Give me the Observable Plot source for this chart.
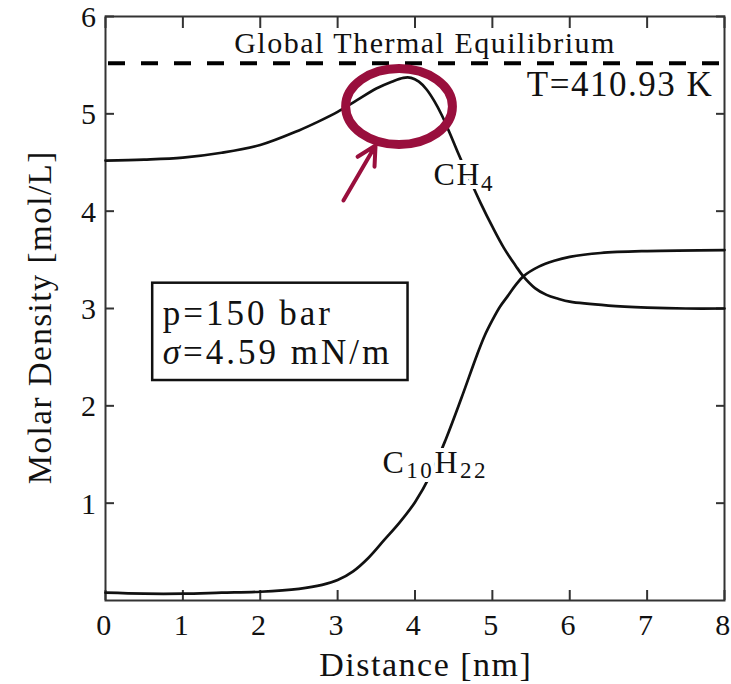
<!DOCTYPE html>
<html><head><meta charset="utf-8">
<script src="https://cdn.jsdelivr.net/npm/d3@7"></script>
<script src="https://cdn.jsdelivr.net/npm/@observablehq/plot@0.6"></script>
<style>body{margin:0;background:#fff} svg text{font-family:"Liberation Serif","Times New Roman","DejaVu Serif",serif !important;}</style>
</head><body><div id="chart"></div>
<script>
// ---- data ----
const distanceCH4 = [0, 0.5, 1.0, 1.5, 2.0, 2.5, 2.75, 3.0, 3.25, 3.5, 3.7, 3.85, 3.95, 4.05, 4.15, 4.25, 4.35, 4.45, 4.55, 4.7, 4.85, 5.0, 5.15, 5.3, 5.4, 5.55, 5.7, 5.85, 6.0, 6.5, 7.0, 7.5, 8.0];
const densityCH4  = [4.52, 4.53, 4.55, 4.60, 4.68, 4.83, 4.92, 5.02, 5.14, 5.26, 5.33, 5.37, 5.37, 5.33, 5.25, 5.13, 4.98, 4.80, 4.61, 4.34, 4.08, 3.84, 3.62, 3.44, 3.33, 3.21, 3.14, 3.10, 3.07, 3.03, 3.01, 3.00, 3.00];
const distanceC10H22 = [0, 0.5, 1.0, 1.5, 2.0, 2.5, 2.8, 3.0, 3.2, 3.4, 3.6, 3.8, 4.0, 4.2, 4.4, 4.6, 4.8, 4.9, 5.0, 5.1, 5.2, 5.3, 5.4, 5.6, 5.8, 6.0, 6.4, 7.0, 8.0];
const densityC10H22  = [0.08, 0.07, 0.07, 0.08, 0.09, 0.12, 0.16, 0.21, 0.30, 0.44, 0.62, 0.80, 1.01, 1.29, 1.66, 2.08, 2.52, 2.72, 2.88, 3.02, 3.13, 3.24, 3.33, 3.43, 3.49, 3.53, 3.57, 3.59, 3.60];
const xTicks = [0, 1, 2, 3, 4, 5, 6, 7, 8];
const yTicks = [1, 2, 3, 4, 5, 6];
const equilibriumDensity = 5.52;
const equilibriumLabel = "Global Thermal Equilibrium";
const temperatureLabel = "T=410.93 K";
const boxLines = ["p=150 bar", "σ=4.59 mN/m"];
const speciesLabels = ["CH4", "C10H22"];
const xLabel = "Distance [nm]";
const yLabel = "Molar Density [mol/L]";

const ch4 = distanceCH4.map((d, i) => ({distance: d, density: densityCH4[i]}));
const c10 = distanceC10H22.map((d, i) => ({distance: d, density: densityC10H22[i]}));

const ink = "#111";
const axisInk = "#333";
const red = "#990f3d";
const serif = '"Liberation Serif", "Times New Roman", "DejaVu Serif", serif';

// highlight ellipse (annotation), in data units
const ell = {cx: 3.80, cy: 5.07, rx: 0.69, ry: 0.39};

const ellipseMark = (index, scales) => {
  const cx = scales.x(ell.cx), cy = scales.y(ell.cy);
  const rx = Math.abs(scales.x(ell.cx + ell.rx) - cx);
  const ry = Math.abs(scales.y(ell.cy + ell.ry) - cy);
  return d3.create("svg:ellipse")
    .attr("cx", cx).attr("cy", cy).attr("rx", rx).attr("ry", ry)
    .attr("fill", "none").attr("stroke", red).attr("stroke-width", 9)
    .node();
};

const chart = Plot.plot({
  width: 731, height: 684,
  marginTop: 16, marginRight: 7, marginBottom: 84, marginLeft: 105,
  x: {domain: [0, 8]},
  y: {domain: [0, 6]},
  style: {fontFamily: serif, background: "white", color: ink, letterSpacing: "1.5px"},
  marks: [
    Plot.axisX(xTicks, {anchor: "bottom", tickSize: 0, tickPadding: 13, dx: -1, fontSize: 30, label: null, fill: ink, tickFormat: "d", fontFamily: serif, ariaLabel: "x-tick-labels"}),
    Plot.axisX(xTicks, {anchor: "bottom", tickSize: -10, fill: "none", stroke: axisInk, strokeWidth: 2, label: null}),
    Plot.axisX(xTicks, {anchor: "top", tickSize: -11, fill: "none", stroke: axisInk, strokeWidth: 2, label: null}),
    Plot.axisY(yTicks, {anchor: "left", tickSize: 0, tickPadding: 8, dy: 1, fontSize: 30, label: null, fill: ink, tickFormat: "d", fontFamily: serif, ariaLabel: "y-tick-labels"}),
    Plot.axisY(yTicks, {anchor: "left", tickSize: -9, fill: "none", stroke: axisInk, strokeWidth: 2, label: null}),
    Plot.axisY(yTicks, {anchor: "right", tickSize: -9, fill: "none", stroke: axisInk, strokeWidth: 2, label: null}),
    Plot.frame({stroke: axisInk, strokeWidth: 2}),
    Plot.ruleY([equilibriumDensity], {stroke: "#000", strokeWidth: 4, strokeDasharray: "17,16", strokeDashoffset: -3}),
    Plot.text([equilibriumLabel], {x: 4.13, y: 5.72, text: d => d, fontSize: 30, fill: ink, fontFamily: serif}),
    Plot.text([temperatureLabel], {x: 7.855, y: 5.30, text: d => d, textAnchor: "end", fontSize: 35, fill: ink, fontFamily: serif}),
    Plot.line(ch4, {x: "distance", y: "density", curve: "catmull-rom", stroke: ink, strokeWidth: 2.7}),
    Plot.line(c10, {x: "distance", y: "density", curve: "catmull-rom", stroke: ink, strokeWidth: 2.7}),
    Plot.text([speciesLabels[0]], {x: 4.24, y: 4.37, text: d => d, textAnchor: "start", fontSize: 32, fill: ink, stroke: "white", strokeWidth: 8, fontFamily: serif}),
    Plot.text([speciesLabels[1]], {x: 3.58, y: 1.42, text: d => d, textAnchor: "start", fontSize: 32, fill: ink, stroke: "white", strokeWidth: 8, fontFamily: serif}),
    Plot.rect([0], {x1: 0.61, x2: 3.91, y1: 2.26, y2: 3.26, fill: "white", stroke: ink, strokeWidth: 2.5}),
    Plot.text([boxLines[0]], {x: 0.74, y: 2.95, text: d => d, textAnchor: "start", fontSize: 35, fill: ink, fontFamily: serif}),
    Plot.text([boxLines[1]], {x: 0.74, y: 2.54, text: d => d, textAnchor: "start", fontSize: 35, fill: ink, fontFamily: serif}),
    Plot.text([xLabel], {x: 4.14, y: -0.668, text: d => d, fontSize: 34, fill: ink, fontFamily: serif}),
    Plot.text([yLabel], {x: -0.846, y: 2.91, text: d => d, rotate: -90, fontSize: 33, fill: ink, fontFamily: serif}),
    ellipseMark,
    Plot.arrow([0], {x1: 3.075, y1: 4.11, x2: 3.49, y2: 4.675, stroke: red, strokeWidth: 4, headLength: 20, headAngle: 55})
  ]
});

// tick labels without extra spacing
chart.querySelectorAll('g[aria-label="x-tick-labels"], g[aria-label="y-tick-labels"]').forEach(g => g.style.letterSpacing = "0px");

// chemical formula subscripts, italic sigma, wider spacing like the typeset original
const NS = "http://www.w3.org/2000/svg";
chart.querySelectorAll("text").forEach(t => {
  const s = t.textContent;
  if (speciesLabels.includes(s)) {
    t.textContent = "";
    if (s === speciesLabels[1]) t.style.letterSpacing = "2.5px";
    const parts = s.match(/[A-Za-z]+|\d+/g);
    let sub = false;
    parts.forEach(p => {
      const isNum = /\d/.test(p);
      const ts = document.createElementNS(NS, "tspan");
      ts.textContent = p;
      if (isNum && !sub) { ts.setAttribute("dy", "0.25em"); ts.setAttribute("font-size", "72%"); sub = true; }
      else if (isNum) { ts.setAttribute("font-size", "72%"); }
      else if (sub) { ts.setAttribute("dy", "-0.18em"); sub = false; }
      t.appendChild(ts);
    });
  } else if (s === boxLines[1]) {
    t.textContent = "";
    t.style.letterSpacing = "3px";
    const a = document.createElementNS(NS, "tspan");
    a.textContent = s[0]; a.setAttribute("font-style", "italic");
    t.appendChild(a);
    t.appendChild(document.createTextNode(s.slice(1)));
  } else if (s === boxLines[0]) {
    t.style.letterSpacing = "3px";
  }
});

document.getElementById("chart").appendChild(chart);
</script>
</body></html>
